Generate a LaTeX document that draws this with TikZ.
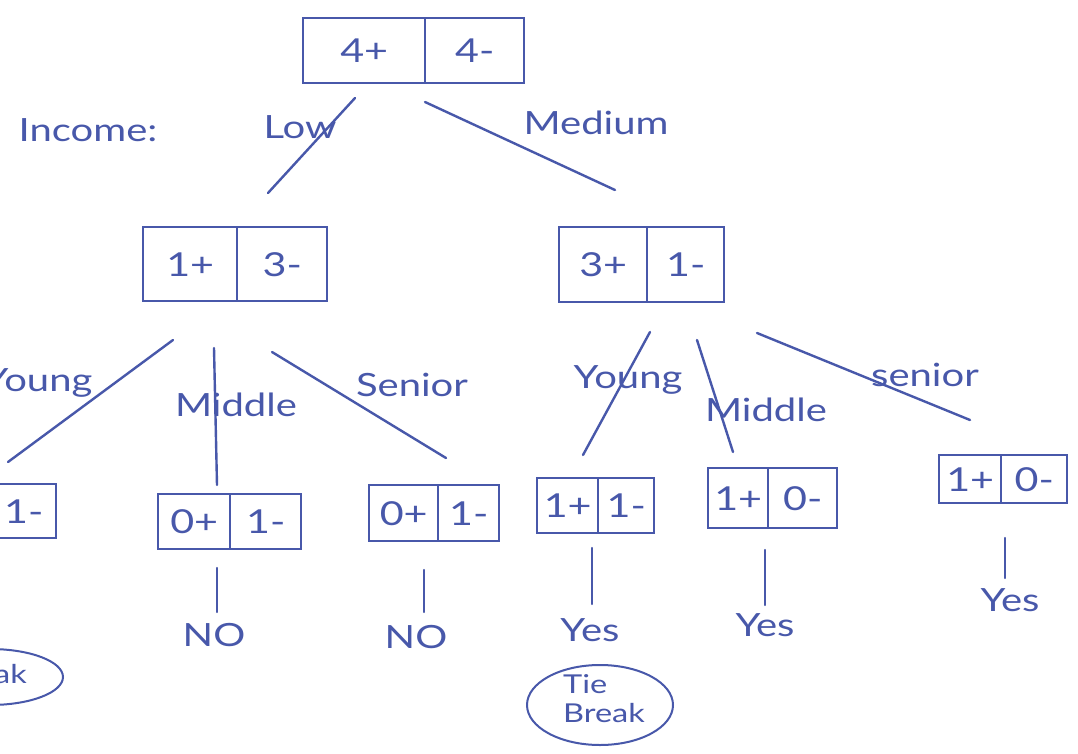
\documentclass[tikz,border=0pt]{standalone}
\usepackage{fontspec}
\setmainfont{Lato}[FakeStretch=1.25]
\usetikzlibrary{shapes.geometric}
\definecolor{ink}{RGB}{72,88,170}
\begin{document}
\begin{tikzpicture}[x=1pt,y=-1pt,
  cell/.style={draw=ink, line width=2.4pt, anchor=north west, inner sep=0pt, text=ink, font=\fontsize{33}{36}\selectfont},
  lbl/.style={text=ink, font=\fontsize{32}{36}\selectfont, inner sep=0pt},
  leaf/.style={text=ink, font=\fontsize{32}{36}\selectfont, inner sep=0pt},
  edge/.style={draw=ink, line width=2.4pt, line cap=round},
  oval/.style={ellipse, draw=ink, line width=2pt, inner sep=0pt},
  ovaltext/.style={text=ink, align=left, font=\fontsize{26}{29}\selectfont, inner sep=0pt}
]
\useasboundingbox (0,0) rectangle (1078,754);
\clip (0,0) rectangle (1078,754);
\fill[white] (0,0) rectangle (1078,754);

% root
\node[cell, minimum width=122pt, minimum height=65pt] (r1) at (302,17) {4+};
\node[cell, minimum width=99pt, minimum height=65pt] (r2) at (424,17) {4-};
\node[lbl] (income) at (88,130) {Income:};

% level 1
\node[cell, minimum width=94pt, minimum height=74pt] (l1) at (142,226) {1+};
\node[cell, minimum width=90pt, minimum height=74pt] (l2) at (236,226) {3-};
\node[cell, minimum width=88pt, minimum height=75pt] (m1) at (558,226) {3+};
\node[cell, minimum width=77pt, minimum height=75pt] (m2) at (646,226) {1-};

\coordinate (a1) at (355,98);  \coordinate (a2) at (268,193);
\coordinate (b1) at (425,102); \coordinate (b2) at (615,190);
\draw[edge] (a1) -- (a2);
\draw[edge] (b1) -- (b2);
\node[lbl] (low) at (300,127) {Low};
\node[lbl] (medium) at (596,123) {Medium};

% level 2, left
\node[cell, minimum width=80pt, minimum height=54pt] (ly1) at (-90,483) {1+};
\node[cell, minimum width=65pt, minimum height=54pt] (ly2) at (-10,483) {1-};
\node[cell, minimum width=72pt, minimum height=55pt] (lm1) at (157,493) {0+};
\node[cell, minimum width=71pt, minimum height=55pt] (lm2) at (229,493) {1-};
\node[cell, minimum width=69pt, minimum height=56pt] (ls1) at (368,484) {0+};
\node[cell, minimum width=61pt, minimum height=56pt] (ls2) at (437,484) {1-};

\coordinate (c1) at (173,340); \coordinate (c2) at (8,462);
\coordinate (d1) at (214,348); \coordinate (d2) at (217,485);
\coordinate (e1) at (272,352); \coordinate (e2) at (446,458);
\draw[edge] (c1) -- (c2);
\draw[edge] (d1) -- (d2);
\draw[edge] (e1) -- (e2);
\node[lbl] (lyoung) at (38,383) {Young};
\node[lbl] (lmiddle) at (236,405) {Middle};
\node[lbl] (lsenior) at (412,385) {Senior};

% level 2, right
\node[cell, minimum width=61pt, minimum height=55pt] (ry1) at (536,477) {1+};
\node[cell, minimum width=56pt, minimum height=55pt] (ry2) at (597,477) {1-};
\node[cell, minimum width=60pt, minimum height=60pt] (rm1) at (707,467) {1+};
\node[cell, minimum width=69pt, minimum height=60pt] (rm2) at (767,467) {0-};
\node[cell, minimum width=62pt, minimum height=48pt] (rs1) at (938,454) {1+};
\node[cell, minimum width=66pt, minimum height=48pt] (rs2) at (1000,454) {0-};

\coordinate (f1) at (650,332); \coordinate (f2) at (583,455);
\coordinate (g1) at (697,340); \coordinate (g2) at (733,452);
\coordinate (h1) at (757,333); \coordinate (h2) at (970,420);
\draw[edge] (f1) -- (f2);
\draw[edge] (g1) -- (g2);
\draw[edge] (h1) -- (h2);
\node[lbl] (ryoung) at (628,380) {Young};
\node[lbl] (rmiddle) at (766,410) {Middle};
\node[lbl] (rsenior) at (925,375) {senior};

% leaves
\coordinate (p1) at (217,568); \coordinate (p2) at (217,612);
\coordinate (q1) at (424,570); \coordinate (q2) at (424,612);
\coordinate (s1) at (592,548); \coordinate (s2) at (592,604);
\coordinate (t1) at (765,550); \coordinate (t2) at (765,605);
\coordinate (u1) at (1005,538); \coordinate (u2) at (1005,578);
\draw[edge] (p1) -- (p2);
\draw[edge] (q1) -- (q2);
\draw[edge] (s1) -- (s2);
\draw[edge] (t1) -- (t2);
\draw[edge] (u1) -- (u2);
\node[leaf] (no1) at (214,635) {NO};
\node[leaf] (no2) at (416,637) {NO};
\node[leaf] (yes1) at (590,630) {Yes};
\node[leaf] (yes2) at (765,625) {Yes};
\node[leaf] (yes3) at (1010,600) {Yes};

% tie-break ovals
\node[oval, minimum width=146pt, minimum height=80pt] (tie2) at (600,705) {};
\node[ovaltext] (tie2t) at (604,699) {Tie\\Break};
\node[oval, minimum width=146pt, minimum height=56pt] (tie1) at (-10,677) {};
\node[ovaltext] (tie1t) at (-14,660) {Tie\\Break};
\end{tikzpicture}
\end{document}
